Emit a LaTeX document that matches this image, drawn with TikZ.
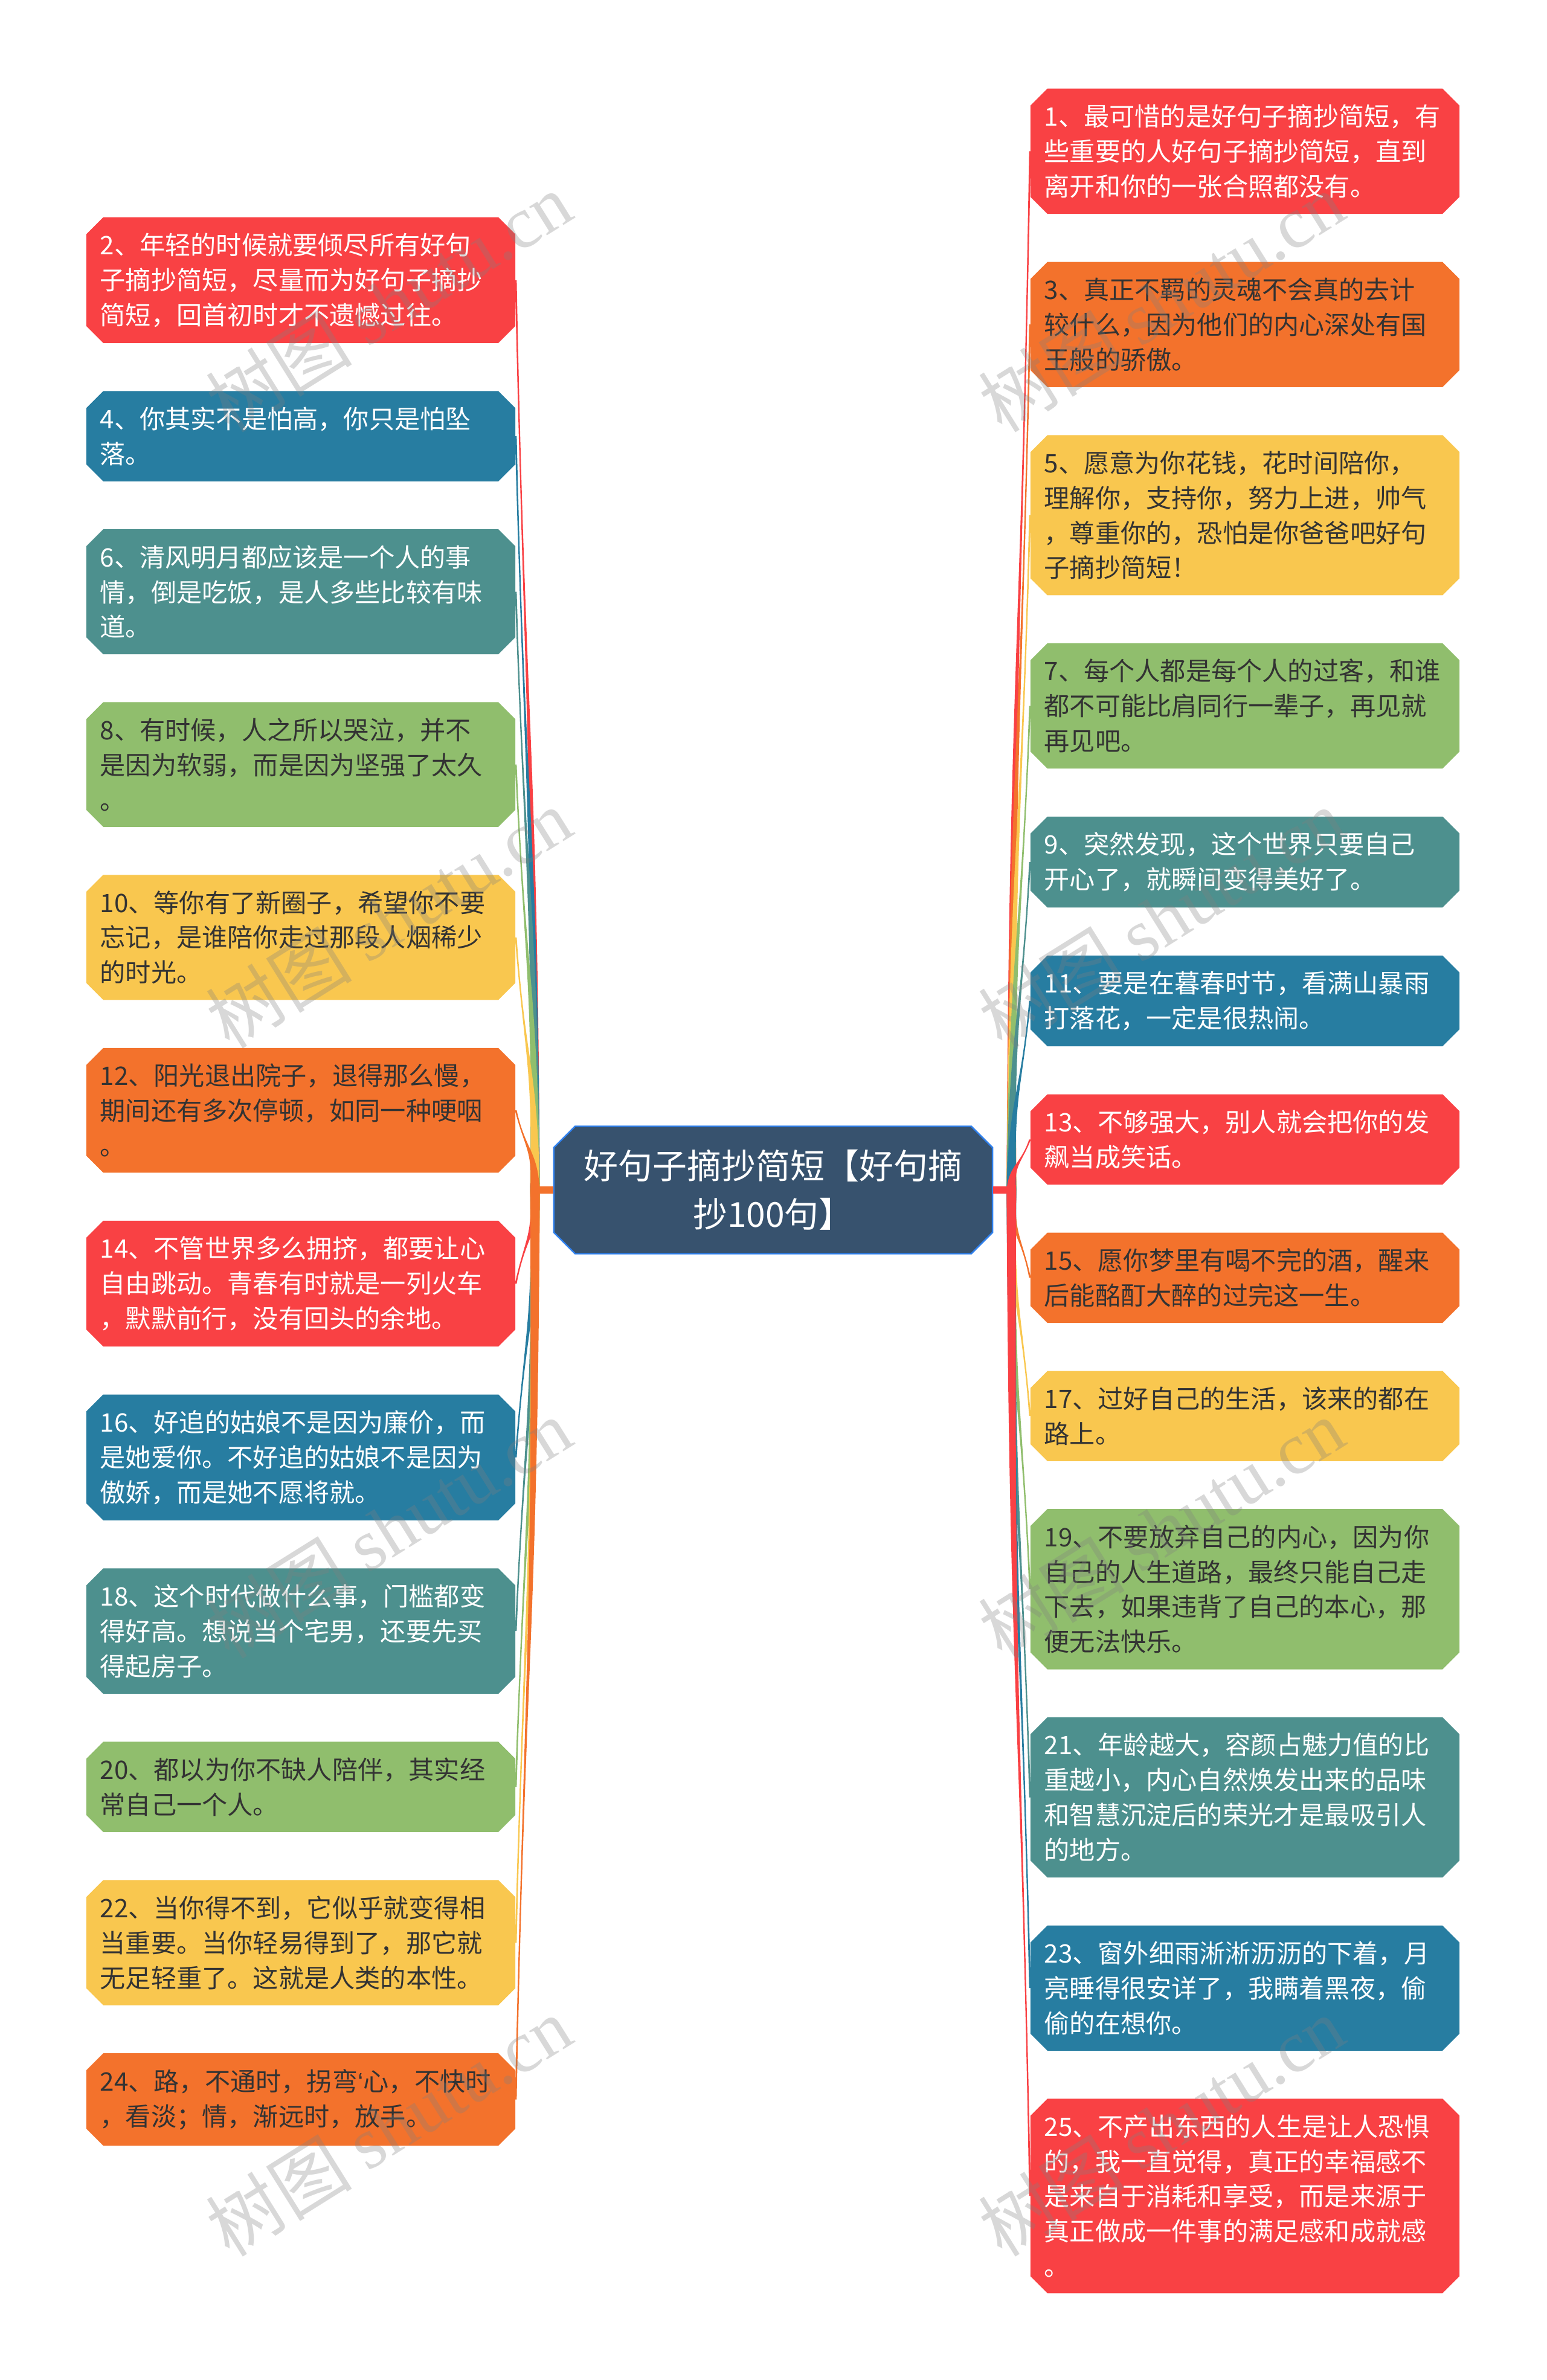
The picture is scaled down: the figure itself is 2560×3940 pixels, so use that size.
\documentclass[tikz,border=0pt]{standalone}
\usepackage{fontspec}
\setmainfont{Noto Sans CJK SC}
\newfontfamily\wmfont{Liberation Serif}
\newfontfamily\latinfont{Liberation Sans}
\usetikzlibrary{positioning,shapes.misc,calc}

\definecolor{cred}{HTML}{F94144}
\definecolor{corange}{HTML}{F3722C}
\definecolor{cyellow}{HTML}{F9C74F}
\definecolor{cgreen}{HTML}{90BE6D}
\definecolor{cteal}{HTML}{4D908E}
\definecolor{cblue}{HTML}{277DA1}
\definecolor{cnavy}{HTML}{37526E}
\definecolor{cedge}{HTML}{2F80ED}
\definecolor{cdark}{HTML}{333333}

\begin{document}
\begin{tikzpicture}[x=0.01cm, y=-0.01cm,
    box/.style={chamfered rectangle, chamfered rectangle xsep=4pt,
      chamfered rectangle ysep=4pt, inner xsep=2.5pt, inner ysep=3.45pt,
      text width=189pt, align=left, font=\fontsize{12pt}{16.45pt}\selectfont},
    wbox/.style={box, fill=#1, text=white},
    dbox/.style={box, fill=#1, text=cdark},
    root/.style={chamfered rectangle, chamfered rectangle xsep=5pt,
      chamfered rectangle ysep=5pt, inner sep=0pt, fill=cnavy, draw=cedge,
      line width=0.7pt, text=white, align=center,
      minimum width=206.5pt, minimum height=60pt,
      font=\fontsize{16.2pt}{22.8pt}\selectfont},
    wmark/.style={text=gray, opacity=0.3, rotate=32,
      font=\fontsize{34.5pt}{34.5pt}\selectfont}]

  \fill[white] (0,0) rectangle (2560,3940); % page
  \useasboundingbox (0,0) rectangle (2560,3940);

  \node[root] (root) at (1280,1970) {好句子摘抄简短【好句摘\\抄100句】};

  % left column
  \node[wbox=cred, anchor=north] (n2) at (498,359) {2、年轻的时候就要倾尽所有好句\\子摘抄简短，尽量而为好句子摘抄\\简短，回首初时才不遗憾过往。};
  \node[wbox=cblue, below=22.2pt of n2] (n4) {4、你其实不是怕高，你只是怕坠\\落。};
  \node[wbox=cteal, below=22.2pt of n4] (n6) {6、清风明月都应该是一个人的事\\情，倒是吃饭，是人多些比较有味\\道。};
  \node[dbox=cgreen, below=22.2pt of n6] (n8) {8、有时候，人之所以哭泣，并不\\是因为软弱，而是因为坚强了太久\\。};
  \node[dbox=cyellow, below=22.2pt of n8] (n10) {10、等你有了新圈子，希望你不要\\忘记，是谁陪你走过那段人烟稀少\\的时光。};
  \node[dbox=corange, below=22.2pt of n10] (n12) {12、阳光退出院子，退得那么慢，\\期间还有多次停顿，如同一种哽咽\\。};
  \node[wbox=cred, below=22.2pt of n12] (n14) {14、不管世界多么拥挤，都要让心\\自由跳动。青春有时就是一列火车\\，默默前行，没有回头的余地。};
  \node[wbox=cblue, below=22.2pt of n14] (n16) {16、好追的姑娘不是因为廉价，而\\是她爱你。不好追的姑娘不是因为\\傲娇，而是她不愿将就。};
  \node[wbox=cteal, below=22.2pt of n16] (n18) {18、这个时代做什么事，门槛都变\\得好高。想说当个宅男，还要先买\\得起房子。};
  \node[dbox=cgreen, below=22.2pt of n18] (n20) {20、都以为你不缺人陪伴，其实经\\常自己一个人。};
  \node[dbox=cyellow, below=22.2pt of n20] (n22) {22、当你得不到，它似乎就变得相\\当重要。当你轻易得到了，那它就\\无足轻重了。这就是人类的本性。};
  \node[dbox=corange, below=22.2pt of n22] (n24) {24、路，不通时，拐弯{\latinfont ‘}心，不快时\\，看淡；情，渐远时，放手。};

  % right column
  \node[wbox=cred, anchor=north] (n1) at (2061,146) {1、最可惜的是好句子摘抄简短，有\\些重要的人好句子摘抄简短，直到\\离开和你的一张合照都没有。};
  \node[dbox=corange, below=22.2pt of n1] (n3) {3、真正不羁的灵魂不会真的去计\\较什么，因为他们的内心深处有国\\王般的骄傲。};
  \node[dbox=cyellow, below=22.2pt of n3] (n5) {5、愿意为你花钱，花时间陪你，\\理解你，支持你，努力上进，帅气\\，尊重你的，恐怕是你爸爸吧好句\\子摘抄简短！};
  \node[dbox=cgreen, below=22.2pt of n5] (n7) {7、每个人都是每个人的过客，和谁\\都不可能比肩同行一辈子，再见就\\再见吧。};
  \node[wbox=cteal, below=22.2pt of n7] (n9) {9、突然发现，这个世界只要自己\\开心了，就瞬间变得美好了。};
  \node[wbox=cblue, below=22.2pt of n9] (n11) {11、要是在暮春时节，看满山暴雨\\打落花，一定是很热闹。};
  \node[wbox=cred, below=22.2pt of n11] (n13) {13、不够强大，别人就会把你的发\\飙当成笑话。};
  \node[dbox=corange, below=22.2pt of n13] (n15) {15、愿你梦里有喝不完的酒，醒来\\后能酩酊大醉的过完这一生。};
  \node[dbox=cyellow, below=22.2pt of n15] (n17) {17、过好自己的生活，该来的都在\\路上。};
  \node[dbox=cgreen, below=22.2pt of n17] (n19) {19、不要放弃自己的内心，因为你\\自己的人生道路，最终只能自己走\\下去，如果违背了自己的本心，那\\便无法快乐。};
  \node[wbox=cteal, below=22.2pt of n19] (n21) {21、年龄越大，容颜占魅力值的比\\重越小，内心自然焕发出来的品味\\和智慧沉淀后的荣光才是最吸引人\\的地方。};
  \node[wbox=cblue, below=22.2pt of n21] (n23) {23、窗外细雨淅淅沥沥的下着，月\\亮睡得很安详了，我瞒着黑夜，偷\\偷的在想你。};
  \node[wbox=cred, below=22.2pt of n23] (n25) {25、不产出东西的人生是让人恐惧\\的，我一直觉得，真正的幸福感不\\是来自于消耗和享受，而是来源于\\真正做成一件事的满足感和成就感\\。};

  % tapered branches
  \coordinate (jl) at ($(root.west)+(-30,0)$);
  \coordinate (jr) at ($(root.east)+(30,0)$);
  \foreach \i/\c in {2/cred,4/cblue,6/cteal,8/cgreen,10/cyellow,12/corange,14/cred,16/cblue,18/cteal,20/cgreen,22/cyellow,24/corange} {
    \path (jl) -- (n\i.east) coordinate[pos=0.5] (m);
    \fill[\c] ($(root.west)+(0,-6)$) rectangle ($(jl)+(0,6)$);
    \fill[\c] ($(jl)+(-8,0)$) .. controls ($(jl |- m)+(-4,0)$) and (m) .. ($(n\i.east)+(-1.5,0)$)
      -- ($(n\i.east)+(1.5,0)$) .. controls (m) and ($(jl |- m)+(4,0)$) .. ($(jl)+(8,0)$) -- cycle;
  }
  \foreach \i/\c in {1/cred,3/corange,5/cyellow,7/cgreen,9/cteal,11/cblue,13/cred,15/corange,17/cyellow,19/cgreen,21/cteal,23/cblue,25/cred} {
    \path (jr) -- (n\i.west) coordinate[pos=0.5] (m);
    \fill[\c] ($(root.east)+(0,-6)$) rectangle ($(jr)+(0,6)$);
    \fill[\c] ($(jr)+(8,0)$) .. controls ($(jr |- m)+(4,0)$) and (m) .. ($(n\i.west)+(1.5,0)$)
      -- ($(n\i.west)+(-1.5,0)$) .. controls (m) and ($(jr |- m)+(-4,0)$) .. ($(jr)+(-8,0)$) -- cycle;
  }

  % watermarks
  \foreach \wx in {643,1922} {
    \foreach \wy in {500,1520,2530,3520} {
      \node[wmark] (wm\wx\wy) at (\wx,\wy) {树图 {\wmfont shutu.cn}};
    }
  }
\end{tikzpicture}
\end{document}
